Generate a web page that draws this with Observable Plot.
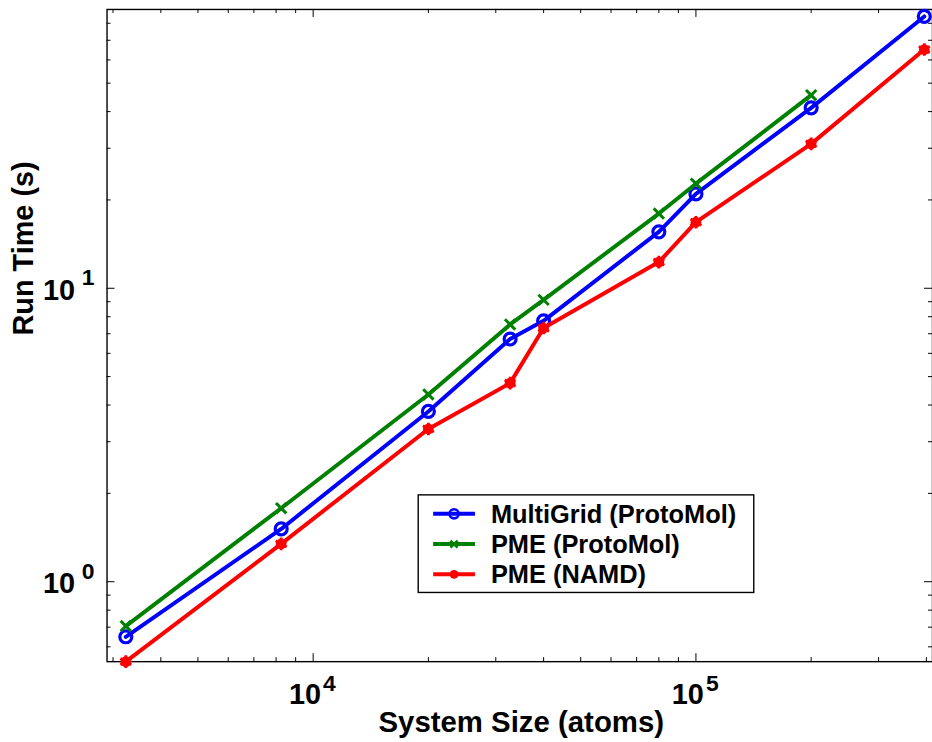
<!DOCTYPE html>
<html>
<head>
<meta charset="utf-8">
<script src="https://cdn.jsdelivr.net/npm/d3@7"></script>
<script src="https://cdn.jsdelivr.net/npm/@observablehq/plot@0.6"></script>
<style>
html, body { margin: 0; padding: 0; background: #fff; }
#chart { position: relative; width: 932px; height: 742px; overflow: hidden; }
</style>
</head>
<body>
<div id="chart"></div>
<script>
// ---- data ----
const sizes = [3240, 8250, 20000, 32700, 40000, 80000, 100000, 200000, 395000];
const multiGridProtoMol = [0.649, 1.513, 3.804, 6.715, 7.745, 15.57, 20.96, 41.2, 84.4];
const pmeProtoMol = [0.706, 1.78, 4.345, 7.53, 9.13, 17.97, 22.72, 45.5];
const pmeNamd = [0.534, 1.346, 3.315, 4.75, 7.32, 12.28, 16.79, 31.05, 65.1];

const seriesNames = ["MultiGrid (ProtoMol)", "PME (ProtoMol)", "PME (NAMD)"];
const seriesColors = ["#0000ff", "#008000", "#ff0000"];

const xMajorTicks = [1e4, 1e5];
const xMinorTicks = [3000, 4000, 5000, 6000, 7000, 8000, 9000,
  20000, 30000, 40000, 50000, 60000, 70000, 80000, 90000,
  200000, 300000, 400000];
const yMajorTicks = [1, 10];
const yMinorTicks = [0.6, 0.7, 0.8, 0.9, 2, 3, 4, 5, 6, 7, 8, 9,
  20, 30, 40, 50, 60, 70, 80];
const tickBase = "10";

const xTitle = "System Size (atoms)";
const yTitle = "Run Time (s)";

// ---- build tables ----
const toRows = (vals) => vals.map((v, i) => ({size: sizes[i], time: v}));
const rowsMG = toRows(multiGridProtoMol);
const rowsPP = toRows(pmeProtoMol);
const rowsPN = toRows(pmeNamd);

const W = 936, H = 742, mL = 107, mT = 9, mB = 78, mR = 0;
const fw = W - mL - mR, fh = H - mT - mB;
const majorLen = 8, minorLen = 4;
const font = "'Liberation Sans', Arial, Helvetica, sans-serif";
const expo = (d) => String(Math.round(Math.log10(d)));

const plot = Plot.plot({
  width: W, height: H,
  marginLeft: mL, marginTop: mT, marginBottom: mB, marginRight: mR,
  x: {type: "log", domain: [2894, 415000], axis: null},
  y: {type: "log", domain: [0.534, 89.15], axis: null},
  style: {fontFamily: font, fontWeight: "bold", background: "#fff", color: "#000", overflow: "visible"},
  marks: [
    // ticks (inward, on all four sides)
    Plot.tickX(xMinorTicks, {x: d => d, insetTop: fh - minorLen, stroke: "#000", strokeWidth: 1}),
    Plot.tickX(xMinorTicks, {x: d => d, insetBottom: fh - minorLen, stroke: "#000", strokeWidth: 1}),
    Plot.tickX(xMajorTicks, {x: d => d, insetTop: fh - majorLen, stroke: "#000", strokeWidth: 1}),
    Plot.tickX(xMajorTicks, {x: d => d, insetBottom: fh - majorLen, stroke: "#000", strokeWidth: 1}),
    Plot.tickY(yMinorTicks, {y: d => d, insetRight: fw - minorLen, stroke: "#000", strokeWidth: 1}),
    Plot.tickY(yMinorTicks, {y: d => d, insetLeft: fw - minorLen, stroke: "#000", strokeWidth: 1}),
    Plot.tickY(yMajorTicks, {y: d => d, insetRight: fw - majorLen, stroke: "#000", strokeWidth: 1}),
    Plot.tickY(yMajorTicks, {y: d => d, insetLeft: fw - majorLen, stroke: "#000", strokeWidth: 1}),
    Plot.frame({stroke: "#000", strokeWidth: 1.4}),

    // series
    Plot.line(rowsMG, {x: "size", y: "time", stroke: seriesColors[0], strokeWidth: 4, strokeLinejoin: "round"}),
    Plot.dot(rowsMG, {x: "size", y: "time", symbol: "circle", r: 6, stroke: seriesColors[0], strokeWidth: 3.2, fill: "none"}),
    Plot.line(rowsPP, {x: "size", y: "time", stroke: seriesColors[1], strokeWidth: 4, strokeLinejoin: "round"}),
    Plot.dot(rowsPP, {x: "size", y: "time", symbol: "times", r: 4.8, stroke: seriesColors[1], strokeWidth: 3}),
    Plot.line(rowsPN, {x: "size", y: "time", stroke: seriesColors[2], strokeWidth: 4, strokeLinejoin: "round"}),
    Plot.dot(rowsPN, {x: "size", y: "time", symbol: "circle", r: 5.4, fill: seriesColors[2], stroke: "none"}),
    Plot.dot(rowsPN, {x: "size", y: "time", symbol: "asterisk", r: 6, stroke: seriesColors[2], strokeWidth: 2.8}),

    // tick labels
    Plot.text(xMajorTicks, {x: d => d, frameAnchor: "bottom", text: () => tickBase, textAnchor: "end", lineAnchor: "middle", dx: 8, dy: 33.5, fontSize: 29}),
    Plot.text(xMajorTicks, {x: d => d, frameAnchor: "bottom", text: expo, textAnchor: "start", lineAnchor: "middle", dx: 10, dy: 22, fontSize: 23}),
    Plot.text(yMajorTicks, {y: d => d, frameAnchor: "left", text: () => tickBase, textAnchor: "end", lineAnchor: "middle", dx: -32, dy: 2, fontSize: 29}),
    Plot.text(yMajorTicks, {y: d => d, frameAnchor: "left", text: expo, textAnchor: "start", lineAnchor: "middle", dx: -25.5, dy: -10.5, fontSize: 23}),

    // axis titles
    Plot.text([xTitle], {frameAnchor: "bottom", lineAnchor: "bottom", dx: 1.5, dy: 71, fontSize: 29.5}),
    Plot.text([yTitle], {frameAnchor: "left", rotate: -90, lineAnchor: "bottom", dx: -74, fontSize: 29})
  ]
});

document.getElementById("chart").appendChild(plot);

// ---- legend box (inside the plot area) ----
const svg = d3.select(plot);
const lg = svg.append("g").attr("transform", "translate(420,497)");
lg.append("rect").attr("width", 337).attr("height", 98)
  .attr("fill", "#fff").attr("stroke", "#000").attr("stroke-width", 1.4);
const legendSymbols = [d3.symbolCircle, d3.symbolTimes, d3.symbolCircle];
seriesNames.forEach((name, i) => {
  const cy = 19 + i * 30.4;
  const c = seriesColors[i];
  lg.append("line").attr("x1", 15).attr("x2", 57).attr("y1", cy).attr("y2", cy)
    .attr("stroke", c).attr("stroke-width", 4);
  const sym = lg.append("path").attr("transform", `translate(36,${cy})`);
  if (i === 0) {
    sym.attr("d", d3.symbol(legendSymbols[i], Math.PI * 4.6 * 4.6)()).attr("fill", "none").attr("stroke", c).attr("stroke-width", 2.6);
  } else if (i === 1) {
    sym.attr("d", d3.symbol(legendSymbols[i], Math.PI * 3.3 * 3.3)()).attr("fill", "none").attr("stroke", c).attr("stroke-width", 2.6);
  } else {
    sym.attr("d", d3.symbol(legendSymbols[i], Math.PI * 4.4 * 4.4)()).attr("fill", c).attr("stroke", "none");
  }
  lg.append("text").attr("x", 73).attr("y", cy + 9)
    .attr("text-anchor", "start")
    .attr("font-family", font).attr("font-weight", "bold").attr("font-size", 25.5)
    .attr("fill", "#000").text(name);
});
</script>
</body>
</html>
